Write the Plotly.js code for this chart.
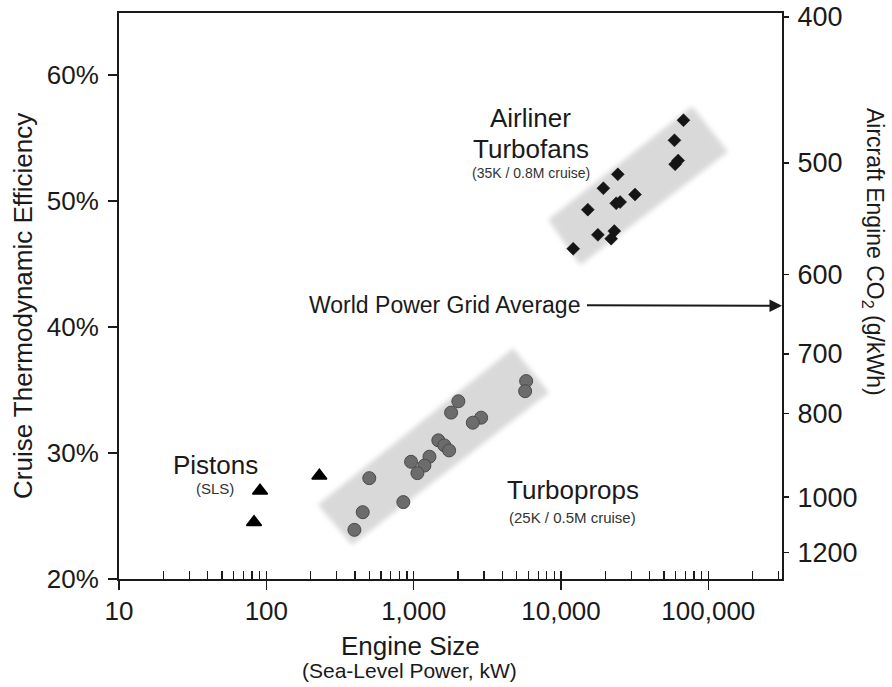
<!DOCTYPE html>
<html><head><meta charset="utf-8">
<script src="https://cdn.plot.ly/plotly-3.0.1.min.js"></script>
<style>html,body{margin:0;padding:0;background:#fff;} #chart{width:892px;height:687px;}</style>
</head><body><div id="chart"></div>
<script>
// ---- data ----
const pistonPower = [90.6, 82.5, 229];
const pistonEff   = [27.0, 24.5, 28.2];

const turbopropPower = [5800, 5710, 2010, 1795, 2870, 2520, 1470, 1615, 1740, 1280, 960, 1183, 1060, 500, 851, 451, 396];
const turbopropEff   = [35.7, 34.9, 34.1, 33.2, 32.8, 32.4, 31.0, 30.6, 30.2, 29.7, 29.3, 29.0, 28.4, 28.0, 26.1, 25.3, 23.9];

const turbofanPower = [67800, 58900, 59500, 62400, 24300, 19400, 31800, 25200, 23700, 15200, 17800, 23000, 21900, 12100];
const turbofanEff   = [56.4, 54.8, 52.9, 53.2, 52.1, 51.0, 50.5, 49.9, 49.8, 49.3, 47.3, 47.6, 47.0, 46.2];

// shaded bands (corners: top, right, bottom, left)
const turbofanBandPower  = [77600, 136000, 13500, 8170];
const turbofanBandEff    = [57.5, 53.9, 44.9, 48.5];
const turbopropBandPower = [4730, 8300, 382, 224];
const turbopropBandEff   = [38.3, 34.8, 22.7, 25.9];

// axes
const xMajor     = [10, 100, 1000, 10000, 100000];
const xMajorText = ['10', '100', '1,000', '10,000', '100,000'];
const yTicks     = [20, 30, 40, 50, 60];
const yTickText  = ['20%', '30%', '40%', '50%', '60%'];
const co2Ticks   = [400, 500, 600, 700, 800, 1000, 1200];
const co2PerKWhFuel = 265;   // g CO2 per kWh of fuel energy
const gridAvgCO2 = 636;      // world power grid average, g/kWh

// ---- layout helpers ----
const FONT = 'Liberation Sans, Arial, Helvetica, sans-serif';
const INK = '#1a1a1a';
const effRange = [20, 64.9];
const xRange = [1, 5.5];

const minorVals = [];
for (let d = 10; d <= 100000; d *= 10) for (let k = 2; k <= 9; k++) if (Math.log10(d*k) < xRange[1]) minorVals.push(d*k);

const co2ToEff = c => Math.min(100 * co2PerKWhFuel / c, effRange[1] - 0.3);

const bandStyle = {mode:'lines', fill:'toself', fillcolor:'#d9d9d9', line:{width:0, color:'rgba(0,0,0,0)'}, hoverinfo:'skip', showlegend:false};
const ghost = {mode:'markers', marker:{opacity:0, size:1}, hoverinfo:'skip', showlegend:false};

const data = [
  Object.assign({x: turbofanBandPower, y: turbofanBandEff, name:'turbofan band'}, bandStyle),
  Object.assign({x: turbopropBandPower, y: turbopropBandEff, name:'turboprop band'}, bandStyle),
  {x: pistonPower, y: pistonEff, name:'Pistons', mode:'markers', type:'scatter',
   marker:{symbol:'triangle-up', size:13, color:'#000', line:{width:1.5, color:'#000'}}},
  {x: turbopropPower, y: turbopropEff, name:'Turboprops', mode:'markers', type:'scatter',
   marker:{symbol:'circle', size:13, color:'#6c6c6c', line:{width:1, color:'#4a4a4a'}}},
  {x: turbofanPower, y: turbofanEff, name:'Airliner Turbofans', mode:'markers', type:'scatter',
   marker:{symbol:'diamond', size:10, color:'#151515', line:{width:0.5, color:'#151515'}}},
  // carriers so the overlay axes (inner major ticks, CO2 scale) are drawn
  Object.assign({x: [xMajor[2]], y: [yTicks[2]], xaxis:'x2', yaxis:'y'}, ghost),
  Object.assign({x: [xMajor[2]], y: [yTicks[2]], xaxis:'x', yaxis:'y2'}, ghost)
];

function ann(text, px, py, size, extra) {
  return Object.assign({text: text, xref:'paper', yref:'paper', x: px, y: py, showarrow:false,
    xanchor:'center', yanchor:'middle', font:{family:FONT, size:size, color:INK}}, extra || {});
}

const layout = {
  width: 892, height: 687,
  margin: {l:119, r:110, t:13, b:108, pad:0},
  paper_bgcolor:'#fff', plot_bgcolor:'#fff',
  showlegend:false,
  font:{family:FONT, color:INK},
  xaxis: {
    type:'log', range:xRange, tickmode:'array', tickvals:xMajor, ticktext:xMajorText,
    ticks:'outside', ticklen:9, tickwidth:1.5, tickcolor:INK,
    showline:true, mirror:true, linewidth:2, linecolor:INK, showgrid:false, zeroline:false,
    tickfont:{size:26, family:FONT, color:INK}, ticklabelstandoff:-1,
    minor:{tickmode:'array', tickvals:minorVals, ticks:'inside', ticklen:8, tickwidth:1.2, tickcolor:INK, showgrid:false},
    fixedrange:true
  },
  xaxis2: {
    type:'log', range:xRange, overlaying:'x', anchor:'y', side:'bottom',
    tickmode:'array', tickvals:xMajor, ticks:'inside', ticklen:8, tickwidth:1.5, tickcolor:INK,
    showticklabels:false, showline:false, showgrid:false, zeroline:false, fixedrange:true
  },
  yaxis: {
    range:effRange, tickmode:'array', tickvals:yTicks, ticktext:yTickText,
    ticks:'outside', ticklen:9, tickwidth:1.5, tickcolor:INK,
    showline:true, linewidth:2, linecolor:INK, showgrid:false, zeroline:false,
    tickfont:{size:26, family:FONT, color:INK}, ticklabelstandoff:4, fixedrange:true
  },
  yaxis2: {
    range:effRange, overlaying:'y', side:'right', anchor:'x',
    tickmode:'array', tickvals:co2Ticks.map(co2ToEff), ticktext:co2Ticks.map(String),
    ticks:'outside', ticklen:5, tickwidth:1.5, tickcolor:INK,
    showline:true, linewidth:2, linecolor:INK, showgrid:false, zeroline:false,
    tickfont:{size:27, family:FONT, color:INK}, ticklabelstandoff:3, fixedrange:true
  },
  annotations: [
    ann('Airliner', 0.6207, 0.8145, 26),
    ann('Turbofans', 0.622, 0.7597, 26),
    ann('(35K / 0.8M cruise)', 0.6214, 0.7173, 14, {font:{family:FONT, size:14, color:'#333'}}),
    {text:'World Power Grid Average', font:{family:FONT, size:23, color:INK},
     xref:'paper', x:1, yref:'y', y:100*co2PerKWhFuel/gridAvgCO2,
     showarrow:true, arrowhead:2, arrowsize:1.25, arrowwidth:2, arrowcolor:INK,
     ax:-338, ay:-1, standoff:0, borderpad:7},
    ann('Pistons', 0.1452, 0.2014, 26),
    ann('(SLS)', 0.1452, 0.1602, 15, {font:{family:FONT, size:15, color:'#333'}}),
    ann('Turboprops', 0.6855, 0.1572, 26),
    ann('(25K / 0.5M cruise)', 0.6833, 0.1087, 15, {font:{family:FONT, size:15, color:'#333'}}),
    ann('Cruise Thermodynamic Efficiency', -0.1448, 0.4823, 26, {textangle:-90}),
    ann('Aircraft Engine CO<sub>2</sub> (g/kWh)', 1.1388, 0.5777, 23, {textangle:90}),
    ann('Engine Size', 0.4404, -0.1184, 26),
    ann('(Sea-Level Power, kW)', 0.4389, -0.1625, 21)
  ]
};

const gd = document.getElementById('chart');
Plotly.newPlot(gd, data, layout, {staticPlot:true, displayModeBar:false}).then(() => {
  const ns = 'http://www.w3.org/2000/svg';
  const svg = gd.querySelector('svg.main-svg');
  let defs = svg.querySelector('defs');
  if (!defs) { defs = document.createElementNS(ns, 'defs'); svg.insertBefore(defs, svg.firstChild); }
  const f = document.createElementNS(ns, 'filter');
  f.setAttribute('id', 'bandBlur');
  f.setAttribute('x', '-20%'); f.setAttribute('y', '-20%');
  f.setAttribute('width', '140%'); f.setAttribute('height', '140%');
  const b = document.createElementNS(ns, 'feGaussianBlur');
  b.setAttribute('stdDeviation', '2.5');
  f.appendChild(b); defs.appendChild(f);
  gd.querySelectorAll('.scatterlayer .trace').forEach((t, i) => {
    if (i < 2) t.querySelectorAll('.js-fill').forEach(p => p.setAttribute('filter', 'url(#bandBlur)'));
  });
});
</script>
</body></html>
